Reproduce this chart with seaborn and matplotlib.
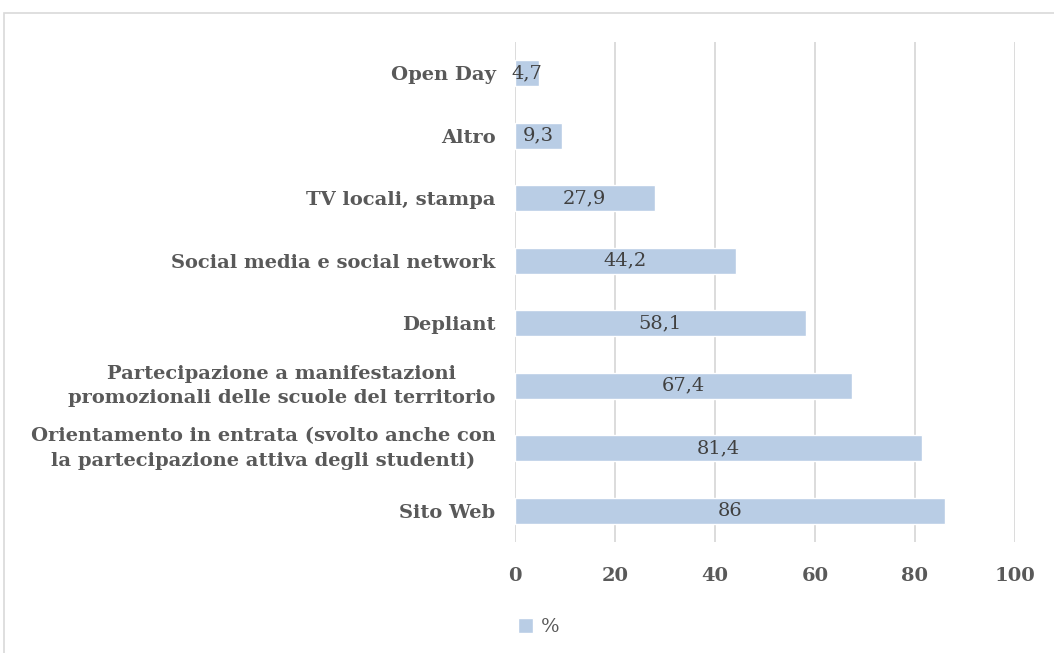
import matplotlib
matplotlib.use("Agg")
import matplotlib.pyplot as plt
from matplotlib.patches import Rectangle
import seaborn as sns
import pandas as pd

categories = [
    "Open Day",
    "Altro",
    "TV locali, stampa",
    "Social media e social network",
    "Depliant",
    "Partecipazione a manifestazioni\npromozionali delle scuole del territorio",
    "Orientamento in entrata (svolto anche con\nla partecipazione attiva degli studenti)",
    "Sito Web",
]
values = [4.7, 9.3, 27.9, 44.2, 58.1, 67.4, 81.4, 86]
series_name = "%"
x_ticks = [0, 20, 40, 60, 80, 100]

df = pd.DataFrame({"cat": categories, "val": values, "serie": series_name})

sns.set_theme(style="white")
plt.rcParams["font.family"] = ["DejaVu Serif"]

W, H = 1054, 653
fig = plt.figure(figsize=(W / 100, H / 100), dpi=100)
ax = fig.add_axes([515 / W, 1 - 542 / H, 500 / W, 500 / H])

bar_color = "#b9cde5"
sns.barplot(data=df, x="val", y="cat", hue="serie", palette=[bar_color],
            orient="h", width=0.42, ax=ax, legend=True, saturation=1)

ax.set_xlim(0, 100)
ax.set_ylim(len(categories) - 0.5, -0.5)
ax.set_xticks(x_ticks)
ax.set_xticklabels([str(t) for t in x_ticks], fontweight="bold", color="#595959", fontsize=14)
ax.tick_params(axis="x", length=0, pad=18)
ax.tick_params(axis="y", length=0, pad=14)
for lbl in ax.get_yticklabels():
    lbl.set_fontweight("bold")
    lbl.set_color("#595959")
    lbl.set_fontsize(14)
    lbl.set_multialignment("center")
    if "\n" in lbl.get_text():
        lbl.set_linespacing(1.45)
        lbl.set_verticalalignment("center")
ax.set_xlabel("")
ax.set_ylabel("")
ax.grid(axis="x", color="#d9d9d9", linewidth=1.3)
ax.set_axisbelow(True)
for s in ax.spines.values():
    s.set_visible(False)

for p, v in zip(ax.patches, values):
    txt = f"{v:g}".replace(".", ",")
    ax.text(v / 2, p.get_y() + p.get_height() / 2, txt, ha="center", va="center",
            fontsize=14, color="#404040")

leg = ax.legend(loc="center left", bbox_to_anchor=(-0.03, -0.17), frameon=False,
                handlelength=0.8, handleheight=0.8, handletextpad=0.4, fontsize=14)
for t in leg.get_texts():
    t.set_color("#595959")

fig.patches.append(Rectangle((4 / W, -0.1), 1.2, 1 - 13 / H + 0.1, transform=fig.transFigure,
                             fill=False, edgecolor="#d9d9d9", linewidth=1.2))

fig.savefig("out.png", dpi=100, facecolor="white")
